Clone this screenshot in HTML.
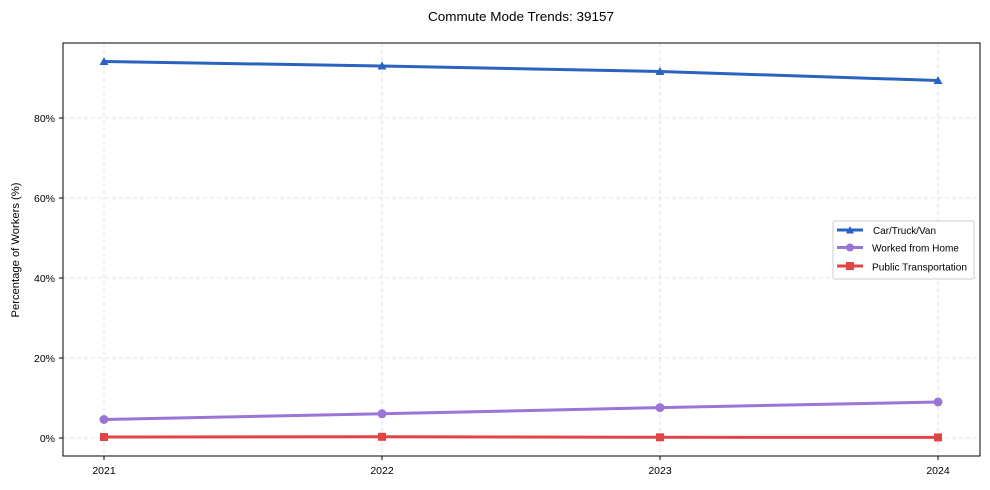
<!DOCTYPE html>
<html><head><meta charset="utf-8"><style>body{margin:0;background:#fff}svg{display:block}text{font-family:"Liberation Sans",Arial,sans-serif}</style></head><body>
<svg width="990" height="490" xmlns="http://www.w3.org/2000/svg">
<text x="521" y="21" font-size="13" text-anchor="middle" textLength="186" lengthAdjust="spacingAndGlyphs">Commute Mode Trends: 39157</text>
<g stroke="#d8d8d8" stroke-dasharray="4,3" stroke-width="0.8">
<line x1="104" y1="43" x2="104" y2="456"/><line x1="382" y1="43" x2="382" y2="456"/><line x1="660" y1="43" x2="660" y2="456"/><line x1="938" y1="43" x2="938" y2="456"/>
<line x1="63" y1="438" x2="980" y2="438"/><line x1="63" y1="358" x2="980" y2="358"/><line x1="63" y1="278" x2="980" y2="278"/><line x1="63" y1="198" x2="980" y2="198"/><line x1="63" y1="118" x2="980" y2="118"/>
</g>
<rect x="63" y="43" width="917" height="413" fill="none" stroke="#000" stroke-width="1"/>
<g stroke="#000"><line x1="59" y1="438" x2="63" y2="438"/><line x1="59" y1="358" x2="63" y2="358"/><line x1="59" y1="278" x2="63" y2="278"/><line x1="59" y1="198" x2="63" y2="198"/><line x1="59" y1="118" x2="63" y2="118"/>
<line x1="104" y1="456" x2="104" y2="460"/><line x1="382" y1="456" x2="382" y2="460"/><line x1="660" y1="456" x2="660" y2="460"/><line x1="938" y1="456" x2="938" y2="460"/></g>
<g font-size="10.5" text-anchor="end"><text x="55" y="442">0%</text><text x="55" y="362">20%</text><text x="55" y="282">40%</text><text x="55" y="202">60%</text><text x="55" y="122">80%</text></g>
<g font-size="10.5" text-anchor="middle"><text x="104" y="474">2021</text><text x="382" y="474">2022</text><text x="660" y="474">2023</text><text x="938" y="474">2024</text></g>
<text transform="translate(19,250) rotate(-90)" font-size="11" text-anchor="middle" textLength="135" lengthAdjust="spacingAndGlyphs">Percentage of Workers (%)</text>
<polyline points="104,61.5 382,66 660,71.5 938,80.5" fill="none" stroke="#2a62c0" stroke-width="3"/>
<g fill="#2a62c0"><polygon points="104,57 108.5,65 99.5,65"/><polygon points="382,61.5 386.5,69.5 377.5,69.5"/><polygon points="660,67 664.5,75 655.5,75"/><polygon points="938,76 942.5,84 933.5,84"/></g>
<polyline points="104,419.5 382,413.8 660,407.6 938,402" fill="none" stroke="#9b74d8" stroke-width="3"/>
<g fill="#9b74d8"><circle cx="104" cy="419.5" r="4.5"/><circle cx="382" cy="413.8" r="4.5"/><circle cx="660" cy="407.6" r="4.5"/><circle cx="938" cy="402" r="4.5"/></g>
<polyline points="104,437 382,436.8 660,437.3 938,437.4" fill="none" stroke="#e04444" stroke-width="3"/>
<g fill="#e04444"><rect x="100" y="433" width="8" height="8"/><rect x="378" y="432.8" width="8" height="8"/><rect x="656" y="433.3" width="8" height="8"/><rect x="934" y="433.4" width="8" height="8"/></g>
<rect x="833" y="221" width="141" height="58" rx="2" fill="#fff" stroke="#ccc"/>
<line x1="837" y1="230" x2="863" y2="230" stroke="#2a62c0" stroke-width="3"/><polygon points="850,226 854,233.5 846,233.5" fill="#2a62c0"/>
<line x1="837" y1="247.5" x2="863" y2="247.5" stroke="#9b74d8" stroke-width="3"/><circle cx="850" cy="247.5" r="4" fill="#9b74d8"/>
<line x1="837" y1="266" x2="863" y2="266" stroke="#e04444" stroke-width="3"/><rect x="846" y="262" width="8" height="8" fill="#e04444"/>
<g font-size="10.5"><text x="873" y="234" textLength="63" lengthAdjust="spacingAndGlyphs">Car/Truck/Van</text><text x="872" y="251.5" textLength="87" lengthAdjust="spacingAndGlyphs">Worked from Home</text><text x="872" y="270.5" textLength="95" lengthAdjust="spacingAndGlyphs">Public Transportation</text></g>
</svg>
</body></html>
